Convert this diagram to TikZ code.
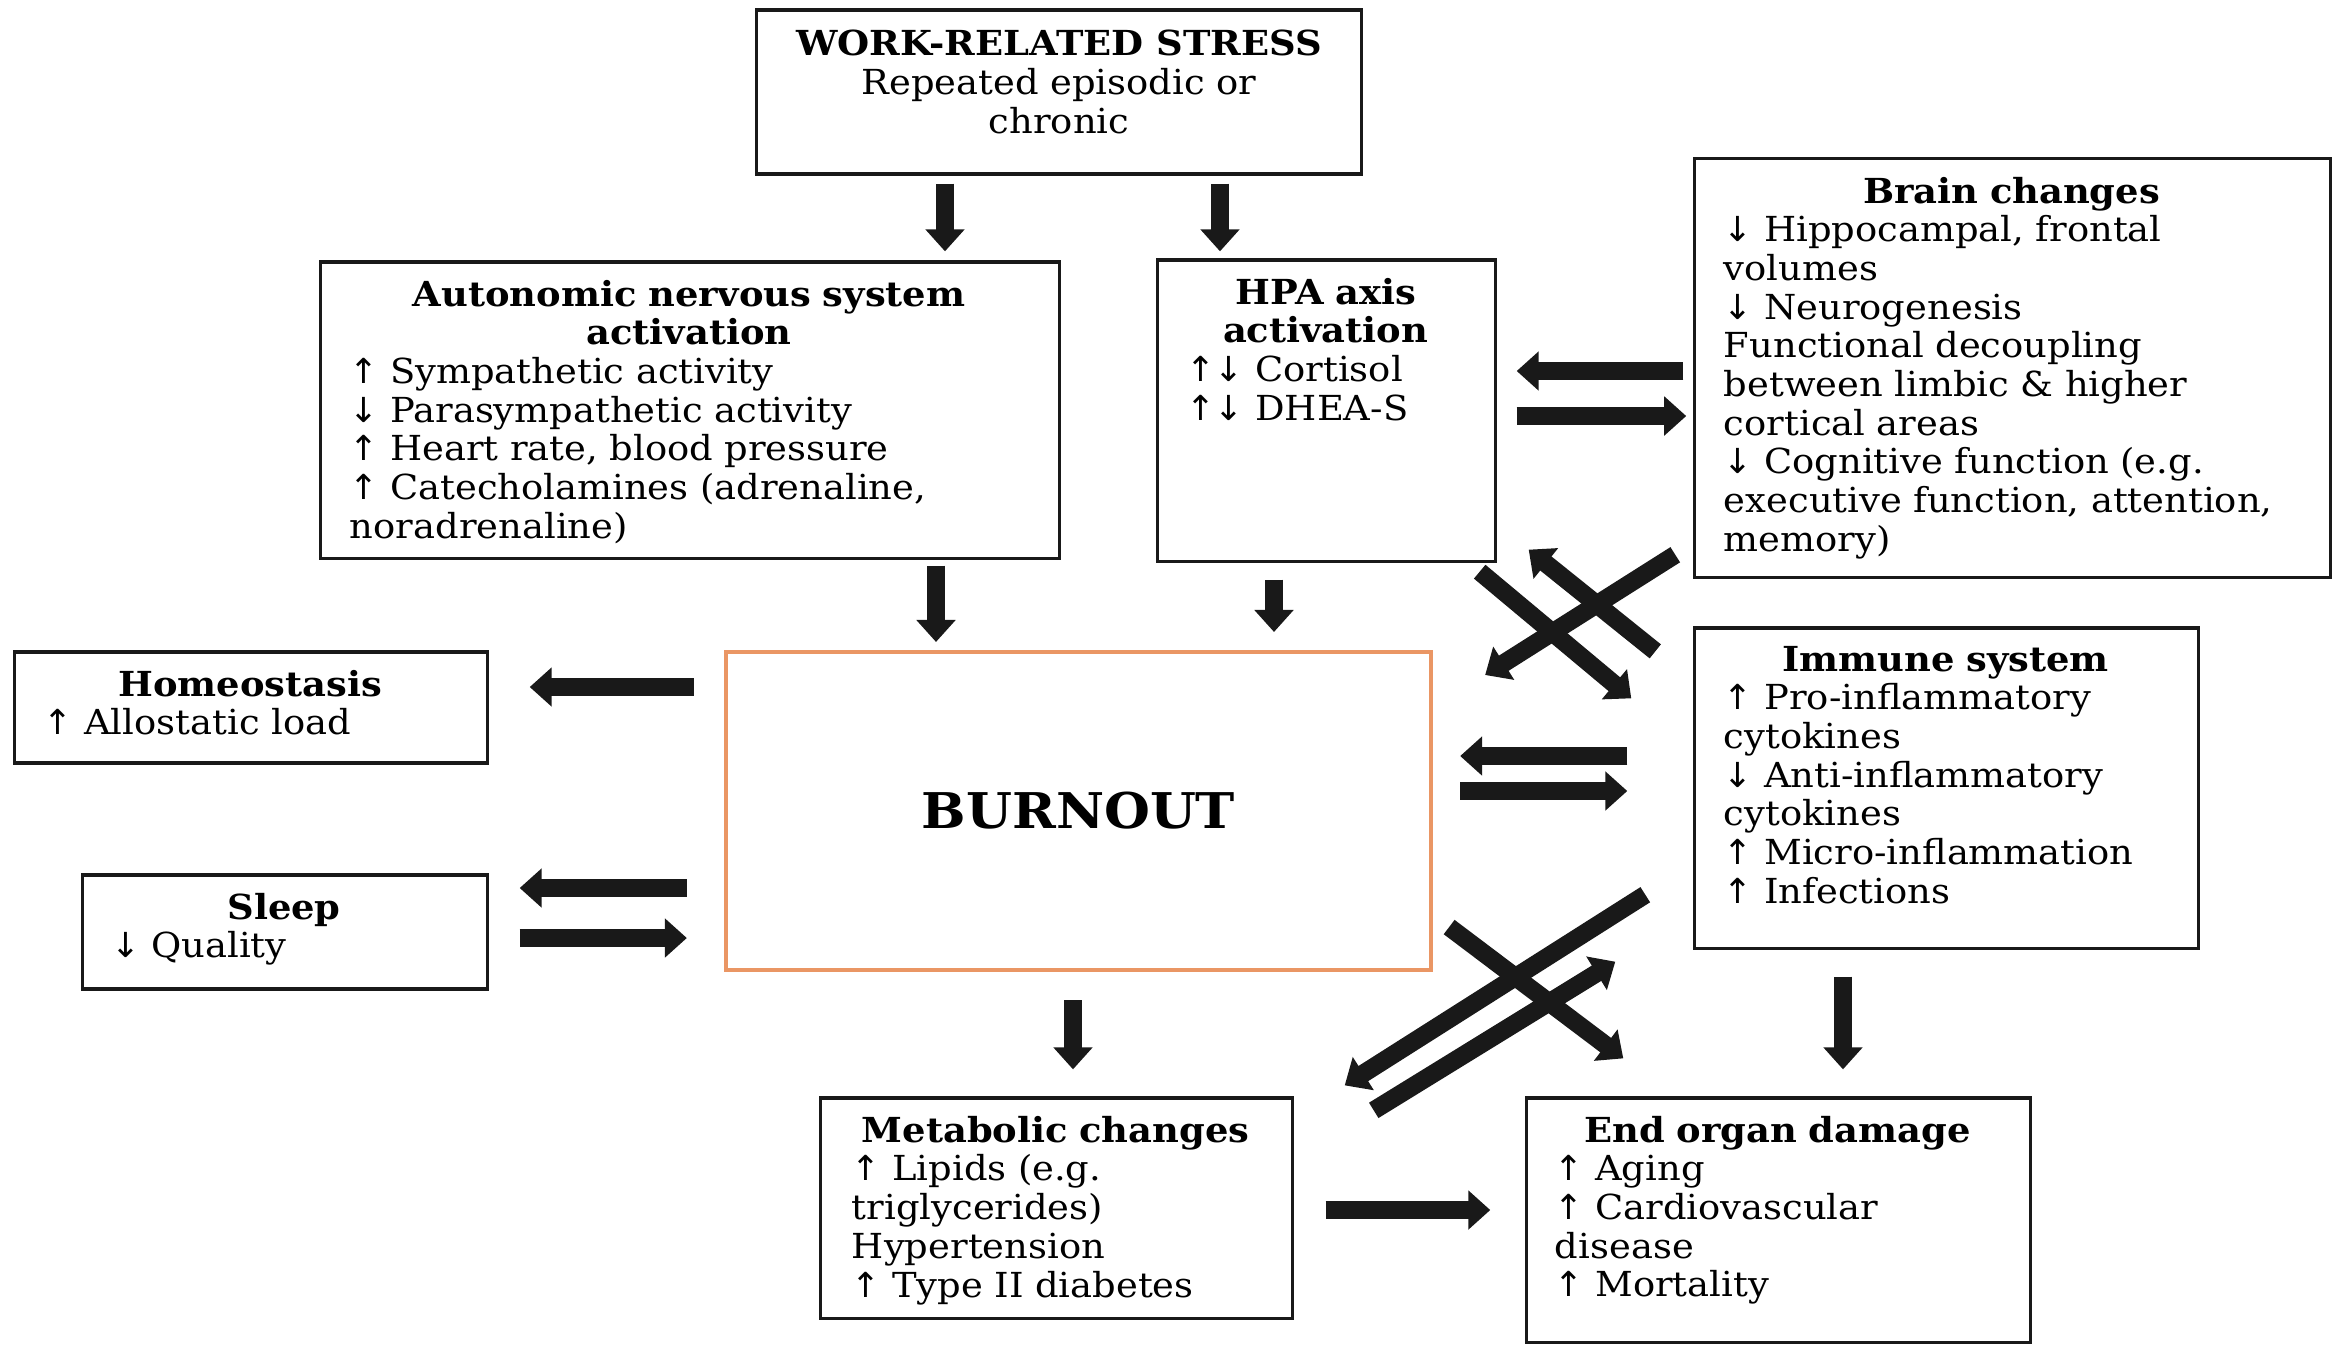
\documentclass[tikz,border=0pt]{standalone}
\usepackage{fontspec}
\setmainfont[FakeStretch=1.07]{DejaVu Serif}
\newfontfamily\arrowfont{DejaVu Sans}
\usetikzlibrary{arrows.meta,calc}

\newcommand{\upar}{{\arrowfont ↑}}
\newcommand{\dnar}{{\arrowfont ↓}}
\definecolor{burnorange}{RGB}{234,150,100}

\begin{document}
\begin{tikzpicture}[
    x=0.01cm, y=-0.01cm,
    font=\fontsize{9.8}{11}\selectfont,
    % Block styles
    infobox/.style={
        rectangle,
        draw=black!90,
        line width=0.9pt
    },
    burnoutbox/.style={
        rectangle,
        draw=burnorange,
        line width=1.1pt
    },
    infotext/.style={
        anchor=north west,
        inner sep=0pt,
        align=left
    },
    fatline/.style={draw=black!90, line width=0.18cm, -{Triangle[length=0.22cm,width=0.38cm]}}
]
\useasboundingbox (0,0) rectangle (2333,1344);

% Boxes
\node[infobox, minimum width=6.04cm, minimum height=1.64cm] (wrs) at (1059,92) {};
\node[infobox, minimum width=7.38cm, minimum height=2.96cm] (ans) at (690,410) {};
\node[infobox, minimum width=3.37cm, minimum height=3.01cm] (hpa) at (1326.5,410.5) {};
\node[infobox, minimum width=6.35cm, minimum height=4.18cm] (brain) at (2012.5,368) {};
\node[infobox, minimum width=4.72cm, minimum height=1.11cm] (homeo) at (251,707.5) {};
\node[burnoutbox, minimum width=7.05cm, minimum height=3.18cm] (burn) at (1078.5,811) {};
\node[infobox, minimum width=5.03cm, minimum height=3.20cm] (immune) at (1946.5,788) {};
\node[infobox, minimum width=4.04cm, minimum height=1.14cm] (sleep) at (285,932) {};
\node[infobox, minimum width=4.71cm, minimum height=2.20cm] (metab) at (1056.5,1208) {};
\node[infobox, minimum width=5.03cm, minimum height=2.44cm] (endorg) at (1778.5,1220) {};

% Texts
\node[anchor=north, inner sep=0pt, align=center] (wrs-txt) at ($(wrs.north)+(0,21)$)
    {\textbf{WORK-RELATED STRESS}\\Repeated episodic or\\chronic};

\node[infotext, text width=6.78cm] (ans-txt) at ($(ans.north west)+(30,19)$)
    {{\centering\textbf{Autonomic nervous system}\\\textbf{activation}\par}
    \upar{} Sympathetic activity\\
    \dnar{} Parasympathetic activity\\
    \upar{} Heart rate, blood pressure\\
    \upar{} Catecholamines (adrenaline,\\
    noradrenaline)};

\node[infotext, text width=2.79cm] (hpa-txt) at ($(hpa.north west)+(29,19)$)
    {{\centering\textbf{HPA axis}\\\textbf{activation}\par}
    \upar\dnar{} Cortisol\\
    \upar\dnar{} DHEA-S};

\node[infotext, text width=5.75cm] (brain-txt) at ($(brain.north west)+(30,19)$)
    {{\centering\textbf{Brain changes}\par}
    \dnar{} Hippocampal, frontal\\
    volumes\\
    \dnar{} Neurogenesis\\
    Functional decoupling\\
    between limbic \& higher\\
    cortical areas\\
    \dnar{} Cognitive function (e.g.\\
    executive function, attention,\\
    memory)};

\node[infotext, text width=4.12cm] (homeo-txt) at ($(homeo.north west)+(30,19)$)
    {{\centering\textbf{Homeostasis}\par}
    \upar{} Allostatic load};

\node[font=\fontsize{14}{17}\selectfont\bfseries] (burn-txt) at (burn.center) {BURNOUT};

\node[infotext, text width=4.43cm] (immune-txt) at ($(immune.north west)+(30,19)$)
    {{\centering\textbf{Immune system}\par}
    \upar{} Pro-inflammatory\\
    cytokines\\
    \dnar{} Anti-inflammatory\\
    cytokines\\
    \upar{} Micro-inflammation\\
    \upar{} Infections};

\node[infotext, text width=3.46cm] (sleep-txt) at ($(sleep.north west)+(29,19)$)
    {{\centering\textbf{Sleep}\par}
    \dnar{} Quality};

\node[infotext, text width=4.07cm] (metab-txt) at ($(metab.north west)+(32,19)$)
    {{\centering\textbf{Metabolic changes}\par}
    \upar{} Lipids (e.g.\\
    triglycerides)\\
    Hypertension\\
    \upar{} Type II diabetes};

\node[infotext, text width=4.45cm] (endorg-txt) at ($(endorg.north west)+(29,19)$)
    {{\centering\textbf{End organ damage}\par}
    \upar{} Aging\\
    \upar{} Cardiovascular\\
    disease\\
    \upar{} Mortality};

% Connections
\draw[fatline] ($(wrs.south)+(-114,8)$) -- ($(ans.north)+(255,-9)$);
\draw[fatline] ($(wrs.south)+(161,8)$) -- ($(hpa.north)+(-106.5,-7)$);
\draw[fatline] ($(ans.south)+(246,6)$) -- ($(burn.north)+(-142.5,-8)$);
\draw[fatline] ($(hpa.south)+(-52.5,17)$) -- ($(burn.north)+(195.5,-18)$);
\draw[fatline] ($(brain.west)+(-10,3)$) -- ($(hpa.east)+(20,-39.5)$);
\draw[fatline] ($(hpa.east)+(20,5.5)$) -- ($(brain.west)+(-7,48)$);

\draw[fatline] ($(burn.west)+(-30,-124)$) -- ($(homeo.east)+(41,-20.5)$);
\draw[fatline] ($(burn.west)+(-37,77)$) -- ($(sleep.east)+(31,-44)$);
\draw[fatline] ($(sleep.east)+(31,6)$) -- ($(burn.west)+(-37,127)$);
\draw[fatline] ($(immune.west)+(-66,-32)$) -- ($(burn.east)+(27,-55)$);
\draw[fatline] ($(burn.east)+(27,-20)$) -- ($(immune.west)+(-66,3)$);

\draw[fatline] ($(burn.south)+(-5.5,28)$) -- ($(metab.north)+(16.5,-27)$);
\draw[fatline] ($(immune.south)+(-103.5,27)$) -- ($(endorg.north)+(64.5,-27)$);
\draw[fatline] ($(metab.east)+(32,2)$) -- ($(endorg.west)+(-35,-10)$);

% Crossing arrows
\draw[fatline] ($(hpa.south east)+(-17,9)$) -- ($(immune.north west)+(-62,72)$);
\draw[fatline] ($(immune.north west)+(-38,25)$) -- ($(hpa.south east)+(32,-13)$);
\draw[fatline] ($(brain.south west)+(-18,-24)$) -- ($(burn.north east)+(52,25)$);
\draw[fatline] ($(immune.south west)+(-48,-55)$) -- ($(metab.north east)+(51,-11)$);
\draw[fatline] ($(metab.north east)+(80,14)$) -- ($(immune.south west)+(-78,12)$);
\draw[fatline] ($(burn.south east)+(16,-45)$) -- ($(endorg.north west)+(98,-38)$);

\end{tikzpicture}
\end{document}
